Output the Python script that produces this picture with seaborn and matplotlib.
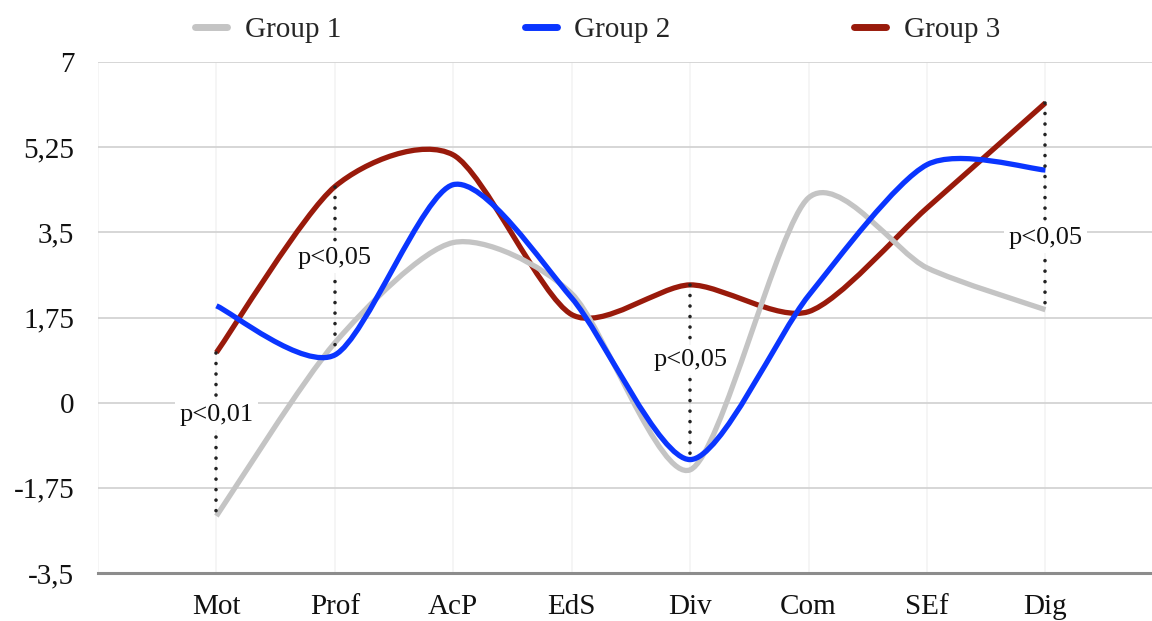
import numpy as np
import pandas as pd
import matplotlib
matplotlib.use("Agg")
import matplotlib.pyplot as plt
from matplotlib.path import Path
from matplotlib.patches import PathPatch
import seaborn as sns

# data
categories = ['Mot', 'Prof', 'AcP', 'EdS', 'Div', 'Com', 'SEf', 'Dig']
group1 = [-2.33, 1.23, 3.29, 2.24, -1.38, 4.21, 2.77, 1.91]
group2 = [1.99, 0.98, 4.48, 2.15, -1.17, 2.20, 4.89, 4.78]
group3 = [1.03, 4.44, 5.09, 1.81, 2.42, 1.87, 4.00, 6.16]
series_names = ['Group 1', 'Group 2', 'Group 3']

y_ticks = [-3.5, -1.75, 0, 1.75, 3.5, 5.25, 7]
y_tick_labels = ['-3,5', '-1,75', '0', '1,75', '3,5', '5,25', '7']

# significance brackets (dotted lines between two groups)
sig_categories = ['Mot', 'Prof', 'Div', 'Dig']
sig_top = ['Group 3', 'Group 3', 'Group 3', 'Group 3']
sig_bottom = ['Group 1', 'Group 2', 'Group 2', 'Group 1']
sig_labels = ['p<0,01', 'p<0,05', 'p<0,05', 'p<0,05']
sig_label_y = [-0.25, 2.98, 0.88, 3.39]

colors = {'Group 1': '#c4c4c4', 'Group 2': '#0a35ff', 'Group 3': '#991a0b'}


def smooth_path(xs, ys, k=0.13):
    """bezier path through the points (like curveType: function)"""
    pts = np.column_stack([xs, ys]).astype(float)
    n = len(pts)
    verts = [pts[0]]
    codes = [Path.MOVETO]
    for i in range(n - 1):
        p0 = pts[max(i - 1, 0)]
        p1 = pts[i]
        p2 = pts[i + 1]
        p3 = pts[min(i + 2, n - 1)]
        verts += [p1 + (p2 - p0) * k, p2 - (p3 - p1) * k, p2]
        codes += [Path.CURVE4] * 3
    return Path(verts, codes)


values = {'Group 1': group1, 'Group 2': group2, 'Group 3': group3}
df = pd.DataFrame({
    'x': np.tile(np.arange(len(categories)), 3),
    'value': group1 + group2 + group3,
    'series': np.repeat(series_names, len(categories)),
})

sns.set_theme(style='whitegrid')
plt.rcParams['font.family'] = ['Liberation Serif', 'DejaVu Serif']

fig = plt.figure(figsize=(11.52, 6.21), dpi=100)
ax = fig.add_axes([98 / 1152, 48 / 621, 1054 / 1152, 511 / 621])

# seaborn sets up the hue mapping and legend; the curves are drawn as beziers
sns.lineplot(data=df, x='x', y='value', hue='series', palette=colors,
             lw=0, ax=ax, legend=True)

zorders = {'Group 3': 3, 'Group 1': 4, 'Group 2': 5}
for name in series_names:
    patch = PathPatch(smooth_path(np.arange(len(categories)), values[name]),
                      facecolor='none', edgecolor=colors[name], lw=3.8,
                      joinstyle='round', capstyle='butt', zorder=zorders[name])
    ax.add_patch(patch)

for cat, top, bot, lab, ly in zip(sig_categories, sig_top, sig_bottom,
                                   sig_labels, sig_label_y):
    xi = categories.index(cat)
    y1 = values[top][xi]
    y2 = values[bot][xi]
    ax.plot([xi, xi], [y1, y2], color='#222222', lw=2.6,
            ls=(0, (0.01, 2.9)), dash_capstyle='round', zorder=6)
    ax.text(xi, ly, lab, ha='center', va='center', fontsize=19,
            color='#111111', zorder=7,
            bbox=dict(facecolor='white', edgecolor='none', pad=3))

ax.set_xlim(-1, 7.9)
ax.set_ylim(-3.5, 7)
ax.set_xticks(range(-1, len(categories)))
ax.set_xticklabels([''] + categories)
ax.set_yticks(y_ticks)
ax.set_yticklabels(y_tick_labels)
ax.set_xlabel('')
ax.set_ylabel('')
ax.tick_params(axis='both', length=0, labelsize=21, colors='#111111')
ax.tick_params(axis='y', pad=17)
ax.tick_params(axis='x', pad=15)

ax.grid(axis='y', color='#d6d6d6', lw=1.4)
ax.grid(axis='x', color='#f3f3f3', lw=1.2)
for side in ['left', 'right', 'top']:
    ax.spines[side].set_visible(False)
ax.spines['bottom'].set_color('#8c8c8c')
ax.spines['bottom'].set_linewidth(2.2)

sns.move_legend(ax, 'center', bbox_to_anchor=(0.474, 1.063), ncol=3,
                frameon=False, title=None, fontsize=21, handlelength=1.1,
                handletextpad=0.6, columnspacing=6.3)
for h in ax.get_legend().legend_handles:
    h.set_linewidth(5)

fig.savefig('out.png', dpi=100)
